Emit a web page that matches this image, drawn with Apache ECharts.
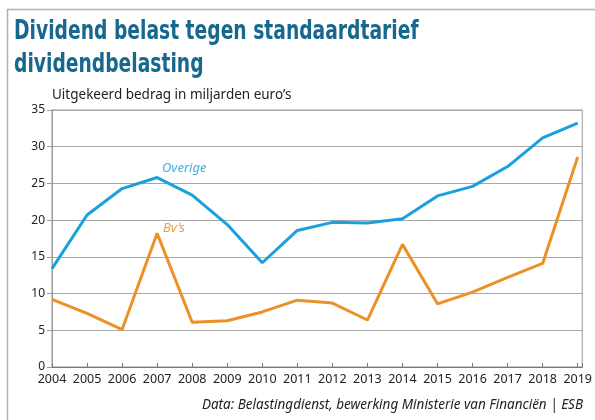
<!DOCTYPE html>
<html>
<head>
<meta charset="utf-8">
<script src="https://cdn.jsdelivr.net/npm/echarts@6/dist/echarts.min.js"></script>
<style>
  html, body { margin: 0; padding: 0; background: #fff; }
  #chart { width: 595px; height: 420px; }
</style>
</head>
<body>
<div id="chart"></div>
<script>
// Data
var years = [2004, 2005, 2006, 2007, 2008, 2009, 2010, 2011, 2012, 2013, 2014, 2015, 2016, 2017, 2018, 2019];
var overige = [13.4, 20.7, 24.3, 25.8, 23.4, 19.4, 14.2, 18.6, 19.7, 19.6, 20.2, 23.3, 24.6, 27.3, 31.2, 33.2];
var bvs = [9.2, 7.3, 5.1, 18.2, 6.1, 6.3, 7.5, 9.1, 8.7, 6.4, 16.7, 8.6, 10.2, 12.2, 14.1, 28.6];
var yTicks = [0, 5, 10, 15, 20, 25, 30, 35];

var toPairs = function(values) {
    return values.map(function(v, i) { return [years[i], v]; });
};

var chart = echarts.init(document.getElementById('chart'));

chart.setOption({
    animation: false,
    textStyle: {
        fontFamily: '"Noto Sans", sans-serif'
    },

    // Frame, title, subtitle, source and series labels
    graphic: [
        {
            type: 'polyline',
            shape: { points: [[7.5, 420], [7.5, 9.5], [595, 9.5]] },
            style: { stroke: '#b0b0b0', lineWidth: 1.5, fill: null }
        },
        {
            type: 'text', x: 14, y: 16, scaleX: 0.8,
            style: {
                text: 'Dividend belast tegen standaardtarief\ndividendbelasting',
                fill: '#17688f',
                font: 'bold 26px "DejaVu Sans Condensed", sans-serif',
                lineHeight: 33
            }
        },
        {
            type: 'text', left: 52, top: 88,
            style: {
                text: 'Uitgekeerd bedrag in miljarden euro\u2019s',
                fill: '#222',
                font: '13.5px "Noto Sans", sans-serif'
            }
        },
        {
            type: 'text', right: 12, top: 398,
            style: {
                text: 'Data: Belastingdienst, bewerking Ministerie van Financi\u00ebn | ESB',
                fill: '#222',
                font: 'italic 13.5px "Noto Sans", sans-serif'
            }
        },
        {
            type: 'text', left: 162, top: 162,
            style: { text: 'Overige', fill: '#3eb0e0', font: 'italic 13px "Noto Sans", sans-serif' }
        },
        {
            type: 'text', left: 163, top: 222,
            style: { text: 'Bv\u2019s', fill: '#e2a24a', font: 'italic 13px "Noto Sans", sans-serif' }
        }
    ],

    grid: {
        left: 52,
        right: 12,
        top: 110,
        bottom: 53,
        show: true,
        borderColor: '#999',
        borderWidth: 1
    },

    xAxis: {
        type: 'value',
        min: 2004,
        max: 2019.13,
        interval: 1,
        axisLine: { show: true, lineStyle: { color: '#777' } },
        axisTick: { show: true, length: 4, inside: true, lineStyle: { color: '#777' } },
        splitLine: { show: false },
        axisLabel: {
            color: '#222',
            fontSize: 12.5,
            margin: 6,
            formatter: function(v) { return v % 1 === 0 ? String(v) : ''; }
        }
    },

    yAxis: {
        type: 'value',
        min: yTicks[0],
        max: yTicks[yTicks.length - 1],
        interval: 5,
        axisLine: { show: true, lineStyle: { color: '#999' } },
        axisTick: { show: true, length: 5, lineStyle: { color: '#999' } },
        splitLine: { show: true, lineStyle: { color: '#a8a8a8', width: 1 } },
        axisLabel: { color: '#222', fontSize: 12, margin: 7 }
    },

    series: [
        {
            name: 'Overige',
            type: 'line',
            data: toPairs(overige),
            symbol: 'none',
            lineStyle: { color: '#1aa0dc', width: 3 },
            z: 3
        },
        {
            name: "Bv's",
            type: 'line',
            data: toPairs(bvs),
            symbol: 'none',
            lineStyle: { color: '#eb9128', width: 3 },
            z: 2
        }
    ]
});
</script>
</body>
</html>
